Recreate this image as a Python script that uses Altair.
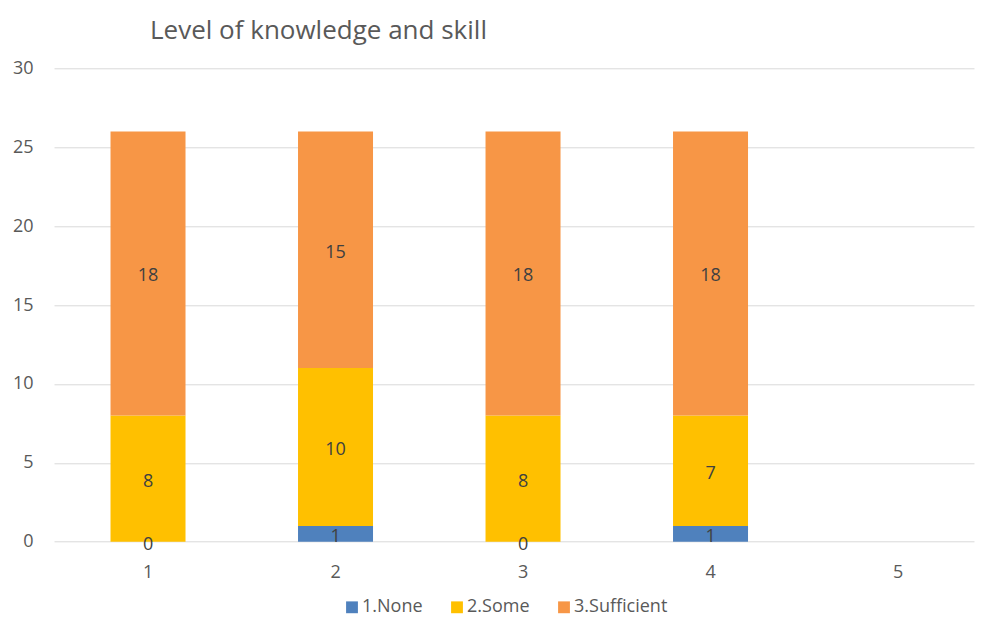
import altair as alt
import pandas as pd

categories = ["1", "2", "3", "4", "5"]
series = ["1.None", "2.Some", "3.Sufficient"]
none_vals = [0, 1, 0, 1]
some_vals = [8, 10, 8, 7]
sufficient_vals = [18, 15, 18, 18]
colors = ["#4F81BD", "#FFC000", "#F79646"]
y_ticks = [0, 5, 10, 15, 20, 25, 30]

rows = []
for vals, s, order in zip([none_vals, some_vals, sufficient_vals], series, [0, 1, 2]):
    for c, v in zip(categories, vals):
        rows.append({"cat": c, "series": s, "value": v, "order": order})
df = pd.DataFrame(rows)

FONT = "Open Sans"
GRAY = "#595959"
xscale = alt.Scale(domain=categories, paddingInner=0.6, paddingOuter=0.2533, align=0.595)

x_enc = alt.X(
    "cat:N",
    scale=xscale,
    axis=alt.Axis(title=None, labelAngle=0, labelFontSize=18, labelColor=GRAY, labelFont=FONT,
                  domain=False, ticks=False, labelPadding=22, grid=False),
)

base = alt.Chart(df).transform_stack(
    stack="value", groupby=["cat"], as_=["y0", "y1"], sort=[alt.SortField("order", order="ascending")]
).transform_calculate(mid="(datum.y0 + datum.y1) / 2")

bars = base.mark_bar().encode(
    x=x_enc,
    y=alt.Y("y0:Q", scale=alt.Scale(domain=[0, 30], nice=False),
            axis=alt.Axis(title=None, values=y_ticks, labelFontSize=18, labelColor=GRAY, labelFont=FONT,
                          domain=False, ticks=False, labelPadding=21, gridColor="#d9d9d9", gridWidth=1)),
    y2="y1:Q",
    color=alt.Color("series:N", scale=alt.Scale(domain=series, range=colors),
                    legend=alt.Legend(title=None, orient="none", direction="horizontal",
                                      legendX=289, legendY=530, symbolType="square", symbolSize=140,
                                      symbolStrokeWidth=0, labelFontSize=18, labelColor=GRAY, labelFont=FONT,
                                      columnPadding=25, labelOffset=1)),
)

labels = base.mark_text(fontSize=18, color="#404040", font=FONT, baseline="middle", dy=3).encode(
    x=alt.X("cat:N", scale=xscale),
    y=alt.Y("mid:Q"),
    text=alt.Text("value:Q"),
)

chart = alt.layer(bars, labels).properties(
    width=920,
    height=473.4,
    title=alt.TitleParams("Level of knowledge and skill", anchor="start", frame="group", dx=96,
                          fontSize=26, font=FONT, fontWeight="normal", color=GRAY, offset=15),
    autosize=alt.AutoSizeParams(type="none"),
    padding={"left": 46, "top": 60.3, "right": 2, "bottom": 78.3},
).configure_view(stroke=None)

chart.save("out.html", embed_options={"renderer": "svg", "actions": False})
